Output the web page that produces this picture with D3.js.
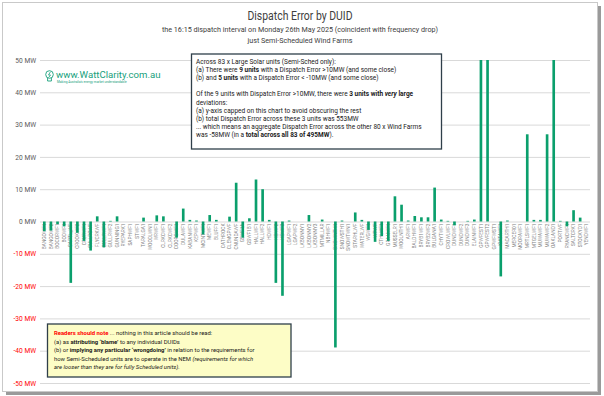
<!DOCTYPE html>
<html><head><meta charset="utf-8">
<script src="https://cdn.jsdelivr.net/npm/d3@7"></script>
<style>
body{margin:0;background:#fff}
svg{display:block}
text{font-family:Roboto,"Open Sans",sans-serif}
</style>
</head><body>
<svg id="c" width="604" height="396"></svg>
<script>
// ---------------- data ----------------
const units = [
 "BANGOWF1","BANGOWF2","BOCORWF1","BODWF1","CAPTL_WF","CROOKWF2","CRURWF1","CULLRGWF","FLYCRKWF","GULLRWF1",
 "GULLRWF2","GUNNING1","RYEPARK1","SAPHWF1","STWF1","TARALGA1","WOODLWN1","WRWF1",
 "CLRKCWF1","CLRKCWF2","COOPGWF1","DULAWF1","KABANWF1","KEPWF1","MCINTWF1","MEWF1",
 "BLUFF1","CATHROCK","CLEMGPWF","CNUNDAWF","GSWF1A","GSWF1B1","HALLWF1","HALLWF2","HDWF1","HDWF2",
 "HDWF3","LGAPWF1","LGAPWF2","LKBONNY1","LKBONNY2","LKBONNY3","MTMILLAR","NBHWF1","SNOWNTH1","SNOWSTH1",
 "SNOWTWN1","STARHLWF","WATERLWF","WGWF1","WPWF",
 "CTHLWF1","GRANWF1","MUSSELR1","WOOLNTH1",
 "ARWF1","BALDHWF1","BRYB1WF1","BRYB2WF2","BULGANA1","CHYTWF1","CROWLWF1","DUNDWF1","DUNDWF2","DUNDWF3",
 "ELAINWF1","GPWFEST1","GPWFEST2","GPWFWST1","KIATAWF1","MACARTH1","MERCER01","MOORAWF1","MRTLSWF1","MTGELWF1",
 "MUWAWF1","MUWAWF2","OAKLAND1","PORTWF","RYANCWF1","SALTCRK1","STOCKYD1","YENDWF1"
];
// Dispatch error (MW) as displayed (y-axis capped at 50)
const errorMW = [
 -3, -2.8, -0.8, -1.5, -19, -3.5, -6, -9, 1.6, -8,
 0.2, 1.6, 0, 0, 0, 1.2, 0, 1.9, 1.6, 0,
 -5, 4, 0.5, 0.3, -4, 2, 0.5, 0, 1.5, 12,
 -5, 1, 13, 10, 0.5, -19, -23, 0.3, 0, 0,
 2, 0, 0.6, 0, -39, 0.3, 0, 2.8, 0.5, -2.6,
 -6.3, -4.5, -6, 7.8, 5.2, 0.3, 1.7, 1.3, 1.3, 10.5,
 0.6, 0.2, -1.2, 0, 0.2, 0.6, 50, 50, 0, -17,
 0.3, 0, 0, 27, 0.5, 0.5, 27, 50, 0.2, -1.5,
 3.5, 1.2, 0
];
const yTicks = [50, 40, 30, 20, 10, 0, -10, -20, -30, -40, -50];
const title = "Dispatch Error by DUID";
const subtitles = [
 "the 16:15 dispatch interval on Monday 26th May 2025 (coincident with frequency drop)",
 "just Semi-Scheduled Wind Farms"
];
const infoLines = [
 [{t:"Across 83 x  Large Solar units (Semi-Sched only):"}],
 [{t:"(a)  There were "},{t:"9 units",b:1},{t:" with a Dispatch Error >10MW (and some close)"}],
 [{t:"(b)  and "},{t:"5 units",b:1},{t:" with a Dispatch Error < -10MW (and some close)"}],
 [],
 [{t:"Of the 9 units with Dispatch Error >10MW, there were "},{t:"3 units with ",b:1},{t:"very",b:1,i:1},{t:" large",b:1}],
 [{t:"deviations:"}],
 [{t:"(a)  y-axis capped on this chart to avoid obscuring the rest"}],
 [{t:"(b)  total Dispatch Error across these 3 units was 553MW"}],
 [{t:"... which means an aggregate Dispatch Error across the other 80 x Wind Farms"}],
 [{t:"was -58MW (in a "},{t:"total across all 83 of 495MW",b:1},{t:")."}]
];
const noteLines = [
 [{t:"Readers should note",b:1,c:"#ff0000"},{t:" ... nothing in this article should be read:"}],
 [{t:"(a)  as "},{t:"attributing \u2018blame\u2019",b:1},{t:" to any individual DUIDs"}],
 [{t:"(b)  or "},{t:"implying any particular \u2018wrongdoing\u2019",b:1},{t:" in relation to the requirements for"}],
 [{t:"how Semi-Scheduled units are to operate in the NEM "},{t:"(requirements for which",i:1}],
 [{t:"are looser than they are for fully Scheduled units).",i:1}]
];

// ---------------- chart ----------------
const svg = d3.select("#c");
const barColor = "#0a9f6c";

// frame + shadow
svg.append("rect").attr("x",597).attr("y",6).attr("width",4).attr("height",388).attr("fill","#9a9a9a");
svg.append("rect").attr("x",6).attr("y",391).attr("width",595).attr("height",4).attr("fill","#9a9a9a");
svg.append("rect").attr("x",2.5).attr("y",2.5).attr("width",595).attr("height",389)
  .attr("fill","#fff").attr("stroke","#c9c9c9").attr("stroke-width",1);

const x = d3.scaleBand().domain(units).range([41, 590.1]).paddingInner(0.6).paddingOuter(0.3);
const y = d3.scaleLinear().domain([-50, 50]).range([383, 60]);

// gridlines + y labels
const yAxis = d3.axisLeft(y).tickValues(yTicks).tickSize(-550).tickFormat(d => d + " MW");
const gy = svg.append("g").attr("transform","translate(40,0)").call(yAxis);
gy.select(".domain").remove();
gy.selectAll(".tick line").attr("stroke","#d9d9d9").attr("stroke-width",1);
gy.selectAll(".tick text").attr("x",-4).attr("font-size",6.6)
  .attr("font-family","Roboto, sans-serif")
  .attr("fill", d => d < 0 ? "#ff0000" : "#595959");

// x labels (rotated)
const gx = svg.append("g").attr("transform",`translate(0,${y(0)})`)
  .call(d3.axisBottom(x).tickSize(0).tickPadding(0));
gx.select(".domain").remove();
gx.selectAll(".tick text")
  .attr("font-size",4.8).attr("fill","#7f7f7f")
  .attr("font-family","Roboto, sans-serif")
  .attr("transform","rotate(-90)")
  .attr("text-anchor","end")
  .attr("dy","0.35em")
  .attr("x",-2).attr("y",0);

// bars
svg.append("g").selectAll("rect").data(units).join("rect")
  .attr("x", d => x(d))
  .attr("width", x.bandwidth())
  .attr("y", (d,i) => Math.min(y(0), y(errorMW[i])))
  .attr("height", (d,i) => Math.abs(y(errorMW[i]) - y(0)))
  .attr("fill", barColor);

// title
svg.append("text").attr("x",300).attr("y",19.5).attr("text-anchor","middle")
  .attr("font-size",12.5).attr("fill","#404040")
  .attr("textLength",105).attr("lengthAdjust","spacingAndGlyphs").text(title);
subtitles.forEach((s,i) => {
  svg.append("text").attr("x",300).attr("y",31.5 + i*11).attr("text-anchor","middle")
    .attr("font-size",7.2).attr("fill","#404040").text(s);
});

// rich text helper
function rich(g, lines, x0, y0, lh, fs) {
  lines.forEach((segs,i) => {
    const t = g.append("text").attr("x",x0).attr("y",y0 + i*lh).attr("font-size",fs).attr("fill","#1a1a1a");
    segs.forEach(s => {
      t.append("tspan").text(s.t)
        .attr("font-weight", s.b ? 700 : 400)
        .attr("font-style", s.i ? "italic" : "normal")
        .attr("fill", s.c || "#1a1a1a");
    });
  });
}

// info box
const ib = svg.append("g");
ib.append("rect").attr("x",191.5).attr("y",54).attr("width",250).attr("height",95)
  .attr("fill","#fff").attr("stroke","#2f3f4a").attr("stroke-width",1.3);
rich(ib, infoLines, 196, 63.5, 8.2, 6.5);

// note box
const nb = svg.append("g");
nb.append("rect").attr("x",47.5).attr("y",324).attr("width",243.5).attr("height",53)
  .attr("fill","#fdfdc6").attr("stroke","#2f3f4a").attr("stroke-width",1.3);
rich(nb, noteLines, 54, 335, 8.6, 5.9);

// logo
const lg = svg.append("g").attr("fill","none").attr("stroke","#17a07c").attr("stroke-width",0.9);
lg.append("circle").attr("cx",49.5).attr("cy",74.5).attr("r",3.8);
lg.append("path").attr("d","M47.6,78 L47.6,81 L51.4,81 L51.4,78");
lg.append("path").attr("d","M50.3,72 L48.5,75 L50.5,75 L48.7,77.5").attr("stroke-width",0.8);
svg.append("text").attr("x",56).attr("y",78).attr("font-size",9.6).attr("fill","#17a07c")
  .attr("font-family","Roboto, sans-serif").text("www.WattClarity.com.au");
svg.append("text").attr("x",57).attr("y",83).attr("font-size",3.2).attr("fill","#17a07c")
  .text("Making Australia's energy market understandable");
</script>
</body></html>
